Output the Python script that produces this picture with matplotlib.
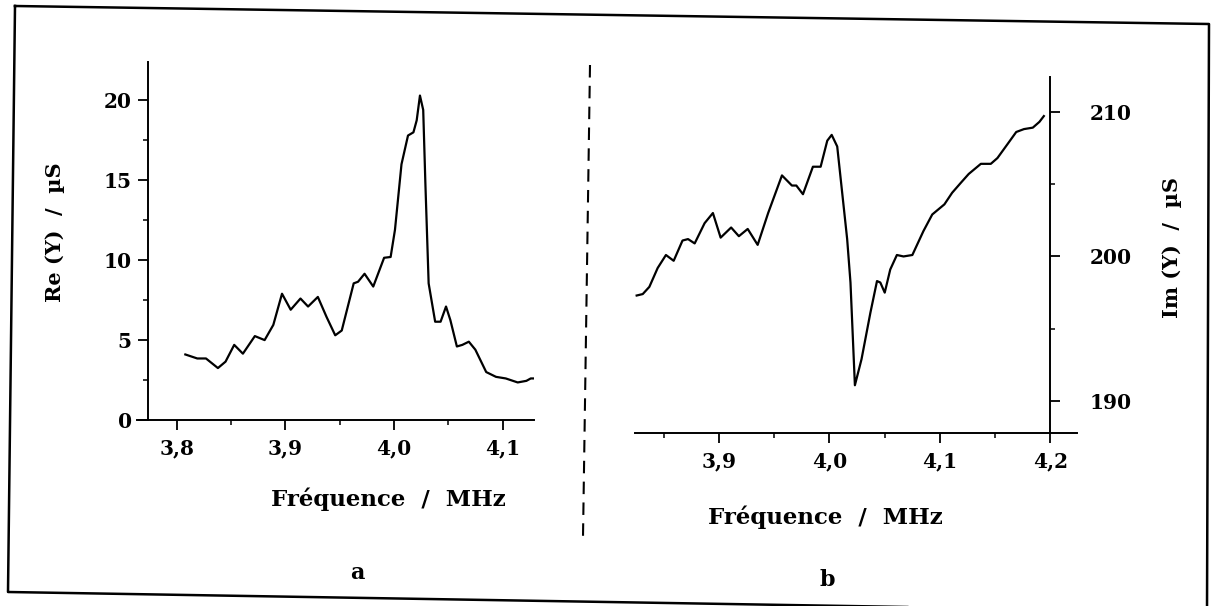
import numpy as np
import matplotlib
matplotlib.use("Agg")
import matplotlib.pyplot as plt
from matplotlib.lines import Line2D
from matplotlib.ticker import MultipleLocator, FuncFormatter

# panel a : real part of admittance
freq_a = [3.808, 3.819, 3.827, 3.838, 3.845, 3.853, 3.861, 3.872, 3.881, 3.889,
          3.897, 3.905, 3.914, 3.921, 3.930, 3.938, 3.946, 3.952, 3.963, 3.967,
          3.973, 3.981, 3.991, 3.997, 4.001, 4.007, 4.013, 4.018, 4.021, 4.024,
          4.027, 4.029, 4.032, 4.038, 4.043, 4.048, 4.052, 4.058, 4.063, 4.069,
          4.075, 4.085, 4.094, 4.103, 4.114, 4.122, 4.126, 4.128]
re_a = [4.1, 3.85, 3.85, 3.25, 3.65, 4.7, 4.15, 5.25, 5.0, 5.95,
        7.9, 6.9, 7.6, 7.1, 7.7, 6.45, 5.3, 5.6, 8.55, 8.65,
        9.15, 8.35, 10.15, 10.2, 11.9, 16.0, 17.8, 18.0, 18.75, 20.3,
        19.4, 14.8, 8.55, 6.15, 6.15, 7.1, 6.25, 4.6, 4.7, 4.9,
        4.4, 3.0, 2.7, 2.6, 2.35, 2.45, 2.6, 2.6]

# panel b : imaginary part of admittance
freq_b = [3.8255, 3.831, 3.837, 3.8445, 3.852, 3.859, 3.867, 3.872, 3.878, 3.887,
          3.8945, 3.9015, 3.911, 3.918, 3.926, 3.935, 3.9445, 3.957, 3.966, 3.970,
          3.976, 3.985, 3.992, 3.998, 4.002, 4.007, 4.016, 4.019, 4.023, 4.029,
          4.037, 4.043, 4.046, 4.050, 4.055, 4.061, 4.067, 4.075, 4.085, 4.093,
          4.104, 4.111, 4.119, 4.126, 4.137, 4.146, 4.152, 4.161, 4.169, 4.176,
          4.184, 4.190, 4.194]
im_b = [197.3, 197.4, 197.9, 199.2, 200.1, 199.7, 201.1, 201.2, 200.9, 202.3,
        203.0, 201.3, 202.0, 201.4, 201.9, 200.8, 203.0, 205.6, 204.9, 204.9,
        204.3, 206.2, 206.2, 208.0, 208.4, 207.6, 201.2, 198.2, 191.1, 192.9,
        196.1, 198.3, 198.2, 197.5, 199.1, 200.1, 200.0, 200.1, 201.75, 202.9,
        203.6, 204.4, 205.1, 205.7, 206.4, 206.4, 206.8, 207.75, 208.6, 208.8,
        208.9, 209.3, 209.7]

xticks_a = [3.8, 3.9, 4.0, 4.1]
yticks_a = [0, 5, 10, 15, 20]
xticks_b = [3.9, 4.0, 4.1, 4.2]
yticks_b = [190, 200, 210]

W, H = 1211, 606
plt.rcParams['font.family'] = ['DejaVu Serif']
plt.rcParams['font.weight'] = 'bold'
plt.rcParams['lines.scale_dashes'] = False

fig = plt.figure(figsize=(W / 100, H / 100), dpi=100)
fig.patch.set_facecolor('white')


def px(x, y):
    return x / W, 1 - y / H


comma = FuncFormatter(lambda v, p: ('%g' % v).replace('.', ',') if v % 1 else '%d,0' % v)

# ---- panel a
ax1 = fig.add_axes([137 / W, (H - 420) / H, 397 / W, 358 / H])
ax1.plot(freq_a, re_a, color='black', lw=1.6, solid_joinstyle='round')
ax1.set_xlim(3.7635, 4.129)
ax1.set_ylim(0, 22.4)
ax1.spines['top'].set_visible(False)
ax1.spines['right'].set_visible(False)
ax1.spines['left'].set_position(('data', 3.774))
ax1.set_xticks(xticks_a)
ax1.set_yticks(yticks_a)
ax1.xaxis.set_minor_locator(MultipleLocator(0.05))
ax1.yaxis.set_minor_locator(MultipleLocator(2.5))
ax1.xaxis.set_major_formatter(comma)

# ---- panel b
ax2 = fig.add_axes([635 / W, (H - 433) / H, 442 / W, 356 / H])
ax2.plot(freq_b, im_b, color='black', lw=1.6, solid_joinstyle='round')
ax2.set_xlim(3.824, 4.224)
ax2.set_ylim(187.8, 212.4)
ax2.spines['top'].set_visible(False)
ax2.spines['left'].set_visible(False)
ax2.spines['right'].set_position(('data', 4.2))
ax2.yaxis.tick_right()
ax2.set_xticks(xticks_b)
ax2.set_yticks(yticks_b)
ax2.xaxis.set_minor_locator(MultipleLocator(0.05))
ax2.yaxis.set_minor_locator(MultipleLocator(5))
ax2.xaxis.set_major_formatter(comma)

for ax in (ax1, ax2):
    ax.set_facecolor('none')
    for s in ax.spines.values():
        s.set_linewidth(1.4)
    ax.tick_params(which='major', length=7, width=1.3, labelsize=14.5, direction='out')
    ax.tick_params(which='minor', length=3.5, width=1.1, direction='out')
    ax.tick_params(axis='x', which='major', pad=6)
ax1.tick_params(axis='y', which='major', pad=5)
ax2.tick_params(axis='y', which='major', pad=21)

# labels
fig.text(*px(55, 232), 'Re (Y)  /  µS', rotation=90, ha='center', va='center', fontsize=15)
fig.text(*px(1172, 247), 'Im (Y)  /  µS', rotation=90, ha='center', va='center', fontsize=15)
fig.text(*px(388, 499), 'Fréquence  /  MHz', ha='center', va='center', fontsize=16.5)
fig.text(*px(825, 517), 'Fréquence  /  MHz', ha='center', va='center', fontsize=16.5)
fig.text(*px(357, 573), 'a', ha='center', va='center', fontsize=16)
fig.text(*px(827, 580), 'b', ha='center', va='center', fontsize=16)

# dashed separator and outer frame (scanned page, slightly rotated)
sep_x, sep_y = zip(*[px(590, 65), px(583, 537)])
fig.add_artist(Line2D(sep_x, sep_y, color='black', lw=1.5, dashes=(9, 6)))
frame = [px(15, 6), px(1209, 24), px(1207, 612), px(8, 592), px(15, 6)]
fx, fy = zip(*frame)
fig.add_artist(Line2D(fx, fy, color='black', lw=1.8))

fig.savefig('out.png', dpi=100, facecolor='white')
